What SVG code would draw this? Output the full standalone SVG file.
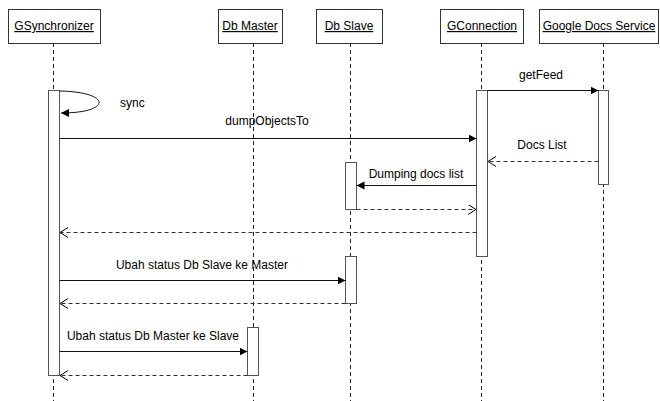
<svg xmlns="http://www.w3.org/2000/svg" width="660" height="401" viewBox="0 0 660 401">
<style>
.box{fill:#fff;stroke:#333;stroke-width:1}
.act{fill:#fff;stroke:#555;stroke-width:1}
.life{stroke:#222;stroke-width:1;stroke-dasharray:4,3;fill:none}
.msg{stroke:#111;stroke-width:1;fill:none}
.ret{stroke:#333;stroke-width:1;stroke-dasharray:4,3;fill:none}
text{font-family:"Liberation Sans",Arial,sans-serif;font-size:12px;fill:#000}
.u{text-decoration:underline;text-anchor:middle}
</style>
<defs>
<marker id="fill" markerWidth="10" markerHeight="10" refX="8" refY="4" orient="auto" markerUnits="userSpaceOnUse">
<path d="M0,0 L8,4 L0,8 Z" fill="#000"/>
</marker>
<marker id="open" markerWidth="10" markerHeight="12" refX="8" refY="5" orient="auto" markerUnits="userSpaceOnUse">
<path d="M0,0 L8,5 L0,10" fill="none" stroke="#000" stroke-width="1"/>
</marker>
</defs>
<rect width="660" height="401" fill="#fff"/>
<g id="gsync">
<line class="life" x1="53.5" y1="43" x2="53.5" y2="401"/>
<rect class="box" x="8.5" y="9.5" width="92" height="34"/>
<text class="u" x="54" y="30">GSynchronizer</text>
<rect class="act" x="48.5" y="90.5" width="11" height="285"/>
</g>
<g id="dbmaster">
<line class="life" x1="253.5" y1="43" x2="253.5" y2="401"/>
<rect class="box" x="218.5" y="9.5" width="64" height="34"/>
<text class="u" x="250" y="30">Db Master</text>
<rect class="act" x="247.5" y="327.5" width="11" height="48"/>
</g>
<g id="dbslave">
<line class="life" x1="350.5" y1="43" x2="350.5" y2="401"/>
<rect class="box" x="316.5" y="9.5" width="66" height="34"/>
<text class="u" x="349" y="30">Db Slave</text>
<rect class="act" x="345.5" y="162.5" width="11" height="47"/>
<rect class="act" x="345.5" y="256.5" width="11" height="47"/>
</g>
<g id="gconn">
<line class="life" x1="481.5" y1="43" x2="481.5" y2="401"/>
<rect class="box" x="440.5" y="9.5" width="83" height="34"/>
<text class="u" x="482" y="30">GConnection</text>
<rect class="act" x="476.5" y="90.5" width="11" height="166"/>
</g>
<g id="gdocs">
<line class="life" x1="603.5" y1="43" x2="603.5" y2="401"/>
<rect class="box" x="539.5" y="9.5" width="119" height="34"/>
<text class="u" x="599" y="30">Google Docs Service</text>
<rect class="act" x="598.5" y="90.5" width="10" height="94"/>
</g>
<g id="connectors">
<path class="msg" d="M59.5,91 C112,92 112,113 61,113" marker-end="url(#fill)"/>
<text x="120" y="107">sync</text>
<line class="msg" x1="59.5" y1="138.5" x2="476.5" y2="138.5" marker-end="url(#fill)"/>
<text x="267" y="125" text-anchor="middle">dumpObjectsTo</text>
<line class="msg" x1="487.5" y1="90.5" x2="598.5" y2="90.5" marker-end="url(#fill)"/>
<text x="541" y="79" text-anchor="middle">getFeed</text>
<line class="ret" x1="598.5" y1="161.5" x2="488" y2="161.5" marker-end="url(#open)"/>
<text x="542" y="149" text-anchor="middle">Docs List</text>
<line class="msg" x1="476.5" y1="185.5" x2="356.5" y2="185.5" marker-end="url(#fill)"/>
<text x="416" y="178" text-anchor="middle">Dumping docs list</text>
<line class="ret" x1="356.5" y1="209.5" x2="476" y2="209.5" marker-end="url(#open)"/>
<line class="ret" x1="476.5" y1="232.5" x2="60" y2="232.5" marker-end="url(#open)"/>
<line class="msg" x1="59.5" y1="280.5" x2="345.5" y2="280.5" marker-end="url(#fill)"/>
<text x="202" y="269" text-anchor="middle">Ubah status Db Slave ke Master</text>
<line class="ret" x1="345.5" y1="303.5" x2="60" y2="303.5" marker-end="url(#open)"/>
<line class="msg" x1="59.5" y1="351.5" x2="247.5" y2="351.5" marker-end="url(#fill)"/>
<text x="153" y="340" text-anchor="middle">Ubah status Db Master ke Slave</text>
<line class="ret" x1="247.5" y1="375.5" x2="60" y2="375.5" marker-end="url(#open)"/>
</g>
</svg>
